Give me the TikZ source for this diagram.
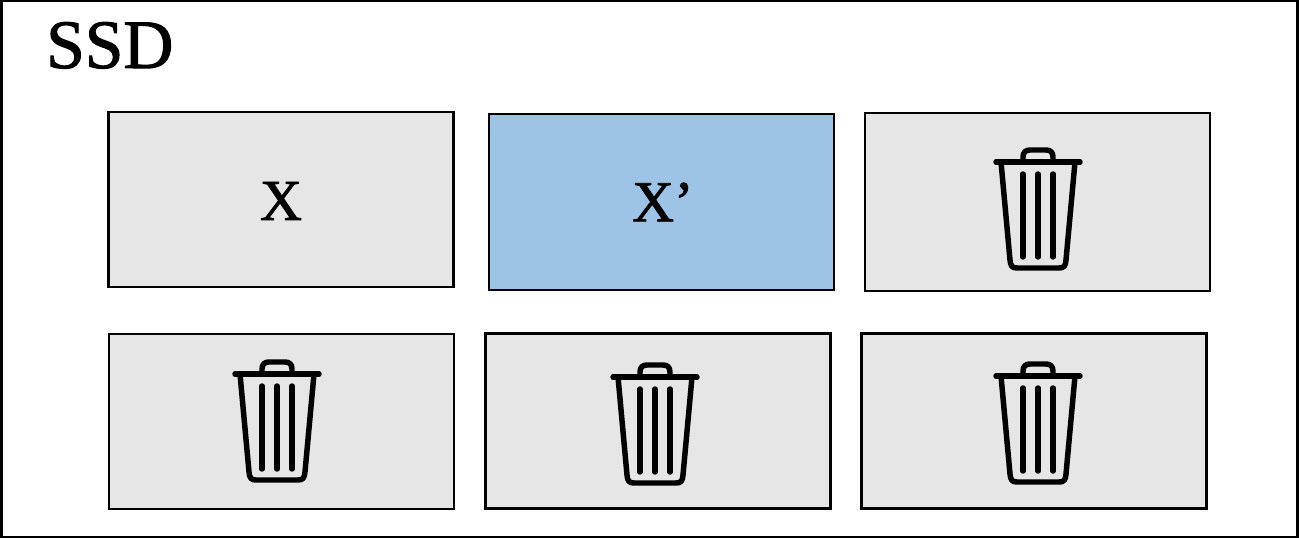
\documentclass[tikz,border=0pt]{standalone}
\usepackage{fontspec}
\setmainfont[FakeBold=1.4]{Liberation Serif}
\definecolor{cellgray}{HTML}{E6E6E6}
\definecolor{cellblue}{HTML}{9DC3E6}
\tikzset{
  x=0.75pt,y=-0.75pt,
  cell/.style={draw=black,line width=1.8pt,fill=cellgray,minimum width=258.5pt,minimum height=131pt,inner sep=0pt,font=\fontsize{43.5}{44}\selectfont},
  trashline/.style={line width=4.1pt,line cap=round,line join=round},
  trash/.pic={
    \draw[trashline] (-42,0) -- (42,0);
    \draw[trashline] (-15,0) -- (-15,-5) .. controls (-15,-10) and (-12,-12) .. (-8,-12) -- (8,-12) .. controls (12,-12) and (15,-10) .. (15,-5) -- (15,0);
    \draw[trashline] (-37,0) -- (-28,98) .. controls (-27.5,104) and (-26,106) .. (-21,106) -- (21,106) .. controls (26,106) and (27.5,104) .. (28,98) -- (37,0);
    \draw[trashline] (-15,12) -- (-15,95);
    \draw[trashline] (0,12) -- (0,95);
    \draw[trashline] (15,12) -- (15,95);
  }
}
\begin{document}
\begin{tikzpicture}
\useasboundingbox (0,0) rectangle (1299,538);
\node[draw=black,line width=2pt,fill=white,minimum width=971.5pt,minimum height=402pt,inner sep=0pt] (ssd) at (649.5,269) {};
\node[font=\fontsize{52}{52}\selectfont,inner sep=0pt,anchor=base west] (label) at (46,68) {SSD};
\node[cell,text depth=0pt] (x) at (281,199.5) {\raisebox{-2.2pt}{X}};
\node[cell,fill=cellblue,minimum height=132pt] (xp) at (661.5,202) {\hspace{2pt}\raisebox{-1pt}{X’}};
\node[cell,minimum height=133.5pt] (t1) at (1037.5,202) {};
\node[cell] (t2) at (281.5,421.5) {};
\node[cell] (t3) at (658,421) {};
\node[cell] (t4) at (1034,421) {};
\pic at (1038,162) {trash};
\pic at (277,374) {trash};
\pic at (655,377) {trash};
\pic at (1038,376) {trash};
\end{tikzpicture}
\end{document}
